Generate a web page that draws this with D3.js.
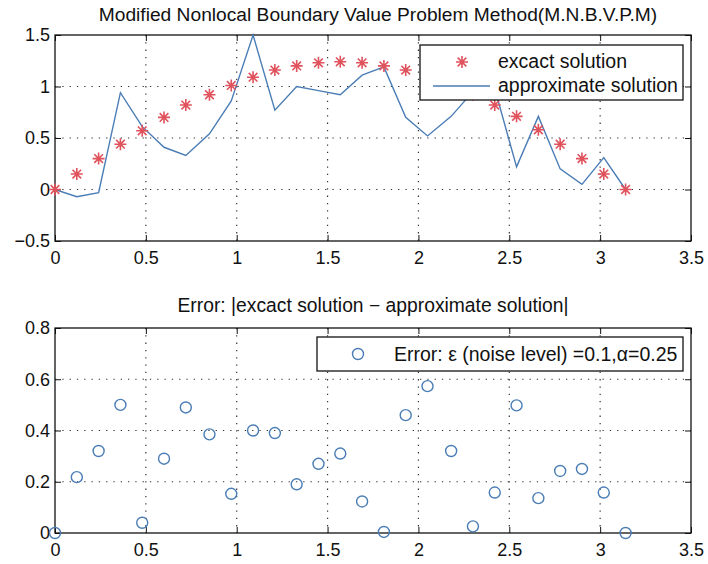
<!DOCTYPE html>
<html>
<head>
<meta charset="utf-8">
<script src="https://cdn.jsdelivr.net/npm/d3@7"></script>
<style>
  body { margin: 0; background: #fff; }
  text { font-family: "Liberation Sans", Arial, sans-serif; fill: #111; }
</style>
</head>
<body>
<script>
// x grid points (0 .. pi)
const xs = [0, 0.12, 0.24, 0.36, 0.48, 0.60, 0.72, 0.85, 0.97, 1.09, 1.21, 1.33, 1.45, 1.57,
            1.69, 1.81, 1.93, 2.05, 2.18, 2.30, 2.42, 2.54, 2.66, 2.78, 2.90, 3.02, 3.14];

// exact solution (stars)
const exact = [0, 0.15, 0.30, 0.44, 0.57, 0.70, 0.82, 0.92, 1.01, 1.09, 1.16, 1.20, 1.23, 1.24,
               1.23, 1.20, 1.16, 1.09, 1.01, 0.92, 0.82, 0.71, 0.58, 0.44, 0.30, 0.15, 0];

// approximate solution (line)
const approx = [0, -0.07, -0.03, 0.94, 0.61, 0.41, 0.33, 0.54, 0.86, 1.50, 0.77, 1.00, 0.96, 0.92,
                1.11, 1.19, 0.70, 0.52, 0.71, 0.95, 0.98, 0.22, 0.71, 0.20, 0.05, 0.31, 0];

// absolute error (circles)
const errors = [0, 0.218, 0.32, 0.50, 0.04, 0.29, 0.49, 0.385, 0.153, 0.40, 0.39, 0.19, 0.27, 0.31,
                0.123, 0.004, 0.46, 0.573, 0.32, 0.026, 0.158, 0.498, 0.136, 0.242, 0.25, 0.158, 0];

const xTicks = [0, 0.5, 1, 1.5, 2, 2.5, 3, 3.5];
const topYTicks = [-0.5, 0, 0.5, 1, 1.5];
const botYTicks = [0, 0.2, 0.4, 0.6, 0.8];

const topTitle = "Modified Nonlocal Boundary Value Problem Method(M.N.B.V.P.M)";
const botTitle = "Error: |excact solution \u2212 approximate solution|";
const topLegend = ["excact solution", "approximate solution"];
const botLegend = "Error: \u03b5 (noise level) =0.1,\u03b1=0.25";

const starColor = "#e0525c";
const blue = "#4a7db5";
const fmt = d3.format("~g");

const svg = d3.select("body").append("svg")
    .attr("width", 708)
    .attr("height", 564);

svg.append("rect").attr("width", 708).attr("height", 564).attr("fill", "#fff");

// one panel: axes box, grid, ticks
function panel(top, bottom, yDomain, yTicks) {
    const left = 55, right = 691;
    const x = d3.scaleLinear().domain([0, 3.5]).range([left, right]);
    const y = d3.scaleLinear().domain(yDomain).range([bottom, top]);
    const g = svg.append("g");

    // dotted grid
    g.selectAll(".gx").data(xTicks.slice(1, -1)).enter().append("line")
        .attr("x1", d => x(d)).attr("x2", d => x(d))
        .attr("y1", top).attr("y2", bottom)
        .attr("stroke", "#333").attr("stroke-width", 1.2)
        .attr("stroke-dasharray", "1.3,6");
    g.selectAll(".gy").data(yTicks.slice(1, -1)).enter().append("line")
        .attr("x1", left).attr("x2", right)
        .attr("y1", d => y(d)).attr("y2", d => y(d))
        .attr("stroke", "#333").attr("stroke-width", 1.2)
        .attr("stroke-dasharray", "1.3,6");

    const fs = "18px";
    // bottom axis with labels
    const ax = g.append("g").attr("transform", "translate(0," + bottom + ")")
        .call(d3.axisBottom(x).tickValues(xTicks).tickFormat(fmt)
            .tickSizeInner(-6).tickSizeOuter(0).tickPadding(10));
    // left axis with labels
    const ay = g.append("g").attr("transform", "translate(" + left + ",0)")
        .call(d3.axisLeft(y).tickValues(yTicks).tickFormat(fmt)
            .tickSizeInner(-6).tickSizeOuter(0).tickPadding(5));
    // top and right ticks, no labels
    const at = g.append("g").attr("transform", "translate(0," + top + ")")
        .call(d3.axisTop(x).tickValues(xTicks).tickFormat("")
            .tickSizeInner(-6).tickSizeOuter(0));
    const ar = g.append("g").attr("transform", "translate(" + right + ",0)")
        .call(d3.axisRight(y).tickValues(yTicks).tickFormat("")
            .tickSizeInner(-6).tickSizeOuter(0));

    [ax, ay, at, ar].forEach(a => {
        a.selectAll(".domain").remove();
        a.selectAll("line").attr("stroke", "#111");
        a.selectAll("text").style("font-size", fs)
            .style("font-family", "'Liberation Sans', Arial, sans-serif").attr("fill", "#111");
    });

    // box
    g.append("rect")
        .attr("x", left).attr("y", top)
        .attr("width", right - left).attr("height", bottom - top)
        .attr("fill", "none").attr("stroke", "#111").attr("stroke-width", 1.3);

    return { x, y, g };
}

// star marker path (MATLAB '*')
function starPath(cx, cy, r) {
    const d = r * 0.72;
    return "M" + (cx - r) + "," + cy + "H" + (cx + r) +
           "M" + cx + "," + (cy - r) + "V" + (cy + r) +
           "M" + (cx - d) + "," + (cy - d) + "L" + (cx + d) + "," + (cy + d) +
           "M" + (cx - d) + "," + (cy + d) + "L" + (cx + d) + "," + (cy - d);
}

// ---------- top panel ----------
const p1 = panel(35, 241, [-0.5, 1.5], topYTicks);

svg.append("text")
    .attr("x", 378).attr("y", 21)
    .attr("text-anchor", "middle")
    .style("font-size", "19.2px")
    .text(topTitle);

const lineGen = d3.line().x((d, i) => p1.x(xs[i])).y(d => p1.y(d));
p1.g.append("path")
    .datum(approx)
    .attr("d", lineGen)
    .attr("fill", "none")
    .attr("stroke", blue)
    .attr("stroke-width", 1.4);

p1.g.selectAll(".star").data(exact).enter().append("path")
    .attr("d", (d, i) => starPath(p1.x(xs[i]), p1.y(d), 6))
    .attr("stroke", starColor).attr("stroke-width", 1.6).attr("fill", "none");

// legend top
const lg1 = svg.append("g");
lg1.append("rect")
    .attr("x", 420).attr("y", 45).attr("width", 263).attr("height", 55)
    .attr("fill", "#fff").attr("stroke", "#111").attr("stroke-width", 1.3);
lg1.append("path")
    .attr("d", starPath(462, 62, 6))
    .attr("stroke", starColor).attr("stroke-width", 1.6).attr("fill", "none");
lg1.append("line")
    .attr("x1", 433).attr("x2", 490).attr("y1", 86).attr("y2", 86)
    .attr("stroke", blue).attr("stroke-width", 1.4);
lg1.selectAll("text").data(topLegend).enter().append("text")
    .attr("x", 498).attr("y", (d, i) => 68 + i * 24)
    .style("font-size", "19.5px")
    .text(d => d);

// ---------- bottom panel ----------
const p2 = panel(328, 533, [0, 0.8], botYTicks);

svg.append("text")
    .attr("x", 373).attr("y", 312)
    .attr("text-anchor", "middle")
    .style("font-size", "19.3px")
    .text(botTitle);

p2.g.selectAll(".err").data(errors).enter().append("circle")
    .attr("cx", (d, i) => p2.x(xs[i]))
    .attr("cy", d => p2.y(d))
    .attr("r", 5.5)
    .attr("fill", "none")
    .attr("stroke", blue)
    .attr("stroke-width", 1.4);

// legend bottom
const lg2 = svg.append("g");
lg2.append("rect")
    .attr("x", 317).attr("y", 337).attr("width", 366).attr("height", 34)
    .attr("fill", "#fff").attr("stroke", "#111").attr("stroke-width", 1.3);
lg2.append("circle")
    .attr("cx", 358).attr("cy", 354).attr("r", 5.5)
    .attr("fill", "none").attr("stroke", blue).attr("stroke-width", 1.4);
lg2.append("text")
    .attr("x", 394).attr("y", 361)
    .style("font-size", "19.5px")
    .text(botLegend);
</script>
</body>
</html>
